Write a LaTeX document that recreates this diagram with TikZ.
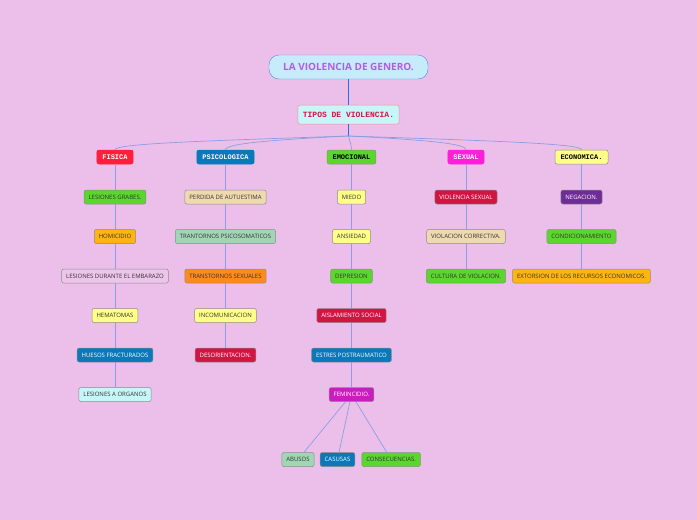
\documentclass[tikz,border=0pt]{standalone}
\usepackage{fontspec}
\setmainfont{Open Sans}
\setmonofont{Liberation Mono}
\usepackage{tikz}
\usetikzlibrary{positioning}
\definecolor{fondo}{RGB}{236,191,234}
\definecolor{linea}{RGB}{140,158,226}
\definecolor{lineaazul}{RGB}{40,110,225}
\definecolor{celeste}{RGB}{199,246,248}
\definecolor{verde}{RGB}{90,214,44}
\definecolor{naranja}{RGB}{255,180,15}
\definecolor{naranjo}{RGB}{255,138,28}
\definecolor{amarillo}{RGB}{255,255,136}
\definecolor{azul}{RGB}{10,120,185}
\definecolor{carmin}{RGB}{210,20,67}
\definecolor{crema}{RGB}{239,218,176}
\definecolor{verdeagua}{RGB}{161,214,180}
\definecolor{morado}{RGB}{110,44,150}
\definecolor{fucsia}{RGB}{200,30,192}
\definecolor{rosa}{RGB}{255,30,218}
\definecolor{rojo}{RGB}{255,30,60}
\definecolor{lila}{RGB}{237,197,235}
\definecolor{cielo}{RGB}{198,236,251}
\definecolor{violeta}{RGB}{178,94,224}
\definecolor{salmon}{RGB}{230,150,150}

\begin{document}
\begin{tikzpicture}[x=1pt, y=1pt, node distance=25pt,
		item/.style={rectangle, draw=black!45, rounded corners=2pt, line width=0.5pt,
			font=\fontsize{6}{7}\selectfont, text=black!80, minimum height=14pt,
			inner xsep=4.5pt, inner ysep=0pt},
		tipo/.style={item, font=\fontsize{7}{8}\selectfont\ttfamily\bfseries, inner xsep=5.5pt},
		rama/.style={draw=linea, line width=0.7pt}]
	
	\useasboundingbox[fill=fondo] (0,0) rectangle (697,-520);
	
	\node[rectangle, rounded corners=10pt, draw=lineaazul!80, fill=cielo,
		minimum width=159pt, minimum height=24pt, text=violeta,
		font=\fontsize{10}{11}\selectfont\bfseries] (lv) at (348.5,-67) {LA VIOLENCIA DE GENERO.};
	\node[item, fill=celeste, draw=salmon, minimum height=19pt,
		font=\fontsize{8}{9}\selectfont\ttfamily\bfseries, text=carmin, inner xsep=5pt] (tv) at (348.5,-114.5) {TIPOS DE VIOLENCIA.};
	\coordinate (hub) at (348.5,-136);
	
	\node[tipo, fill=rojo, text=white, draw=rojo] (fis) at (115,-157) {FISICA};
	\node[tipo, fill=azul, text=white, draw=azul] (psi) at (225.5,-157) {PSICOLOGICA};
	\node[tipo, fill=verde, text=black] (emo) at (351.5,-157) {EMOCIONAL};
	\node[tipo, fill=rosa, text=white, draw=rosa] (sex) at (466,-157) {SEXUAL};
	\node[tipo, fill=amarillo, text=black] (eco) at (581.5,-157) {ECONOMICA.};
	
	\node[item, fill=verde, below=25.5pt of fis] (f1) {LESIONES GRABES.};
	\node[item, fill=naranja, below=of f1] (f2) {HOMICIDIO};
	\node[item, fill=lila, below=of f2] (f3) {LESIONES DURANTE EL EMBARAZO};
	\node[item, fill=amarillo, below=of f3] (f4) {HEMATOMAS};
	\node[item, fill=azul, text=white, below=of f4] (f5) {HUESOS FRACTURADOS};
	\node[item, fill=celeste, below=of f5] (f6) {LESIONES A ORGANOS};
	
	\node[item, fill=crema, below=25.5pt of psi] (p1) {PERDIDA DE AUTUESTIMA};
	\node[item, fill=verdeagua, below=of p1] (p2) {TRANTORNOS PSICOSOMATICOS};
	\node[item, fill=naranjo, below=of p2] (p3) {TRANSTORNOS SEXUALES};
	\node[item, fill=amarillo, below=of p3] (p4) {INCOMUNICACION};
	\node[item, fill=carmin, text=white, below=of p4] (p5) {DESORIENTACION.};
	
	\node[item, fill=amarillo, below=25.5pt of emo] (e1) {MIEDO};
	\node[item, fill=amarillo, below=of e1] (e2) {ANSIEDAD};
	\node[item, fill=verde, below=of e2] (e3) {DEPRESION};
	\node[item, fill=carmin, text=white, below=of e3] (e4) {AISLAMIENTO SOCIAL};
	\node[item, fill=azul, text=white, below=of e4] (e5) {ESTRES POSTRAUMATICO};
	\node[item, fill=fucsia, text=white, below=of e5] (e6) {FEMINCIDIO.};
	\node[item, fill=azul, text=white, below=50.5pt of e6, xshift=-14pt] (e7b) {CASUSAS};
	\node[item, fill=verdeagua, left=5.5pt of e7b] (e7a) {ABUSOS};
	\node[item, fill=verde, right=6.5pt of e7b] (e7c) {CONSECUENCIAS.};
	
	\node[item, fill=carmin, text=white, below=25.5pt of sex] (s1) {VIOLENCIA SEXUAL};
	\node[item, fill=crema, below=of s1] (s2) {VIOLACION CORRECTIVA.};
	\node[item, fill=verde, below=of s2] (s3) {CULTURA DE VIOLACION.};
	
	\node[item, fill=morado, text=white, below=25.5pt of eco] (c1) {NEGACION.};
	\node[item, fill=verde, below=of c1] (c2) {CONDICIONAMIENTO};
	\node[item, fill=naranja, below=of c2] (c3) {EXTORSION DE LOS RECURSOS ECONOMICOS.};
	
	\draw[draw=lineaazul, line width=1pt] (lv) -- (tv);
	\draw[draw=lineaazul, line width=1pt] (tv) -- (hub);
	\draw[rama] (hub) .. controls +(-150,-5) and +(0,6) .. (fis.north);
	\draw[rama] (hub) .. controls +(-80,-4) and +(0,6) .. (psi.north);
	\draw[rama] (hub) .. controls +(1,-5) and +(0,5) .. (emo.north);
	\draw[rama] (hub) .. controls +(80,-4) and +(0,6) .. (sex.north);
	\draw[rama] (hub) .. controls +(150,-5) and +(0,6) .. (eco.north);
	
	\draw[rama] (fis) -- (f1) -- (f2) -- (f3) -- (f4) -- (f5) -- (f6);
	\draw[rama] (psi) -- (p1) -- (p2) -- (p3) -- (p4) -- (p5);
	\draw[rama] (emo) -- (e1) -- (e2) -- (e3) -- (e4) -- (e5) -- (e6);
	\draw[rama] (e6) -- (e7a);
	\draw[rama] (e6) -- (e7b);
	\draw[rama] (e6) -- (e7c);
	\draw[rama] (sex) -- (s1) -- (s2) -- (s3);
	\draw[rama] (eco) -- (c1) -- (c2) -- (c3);
\end{tikzpicture}
\end{document}
